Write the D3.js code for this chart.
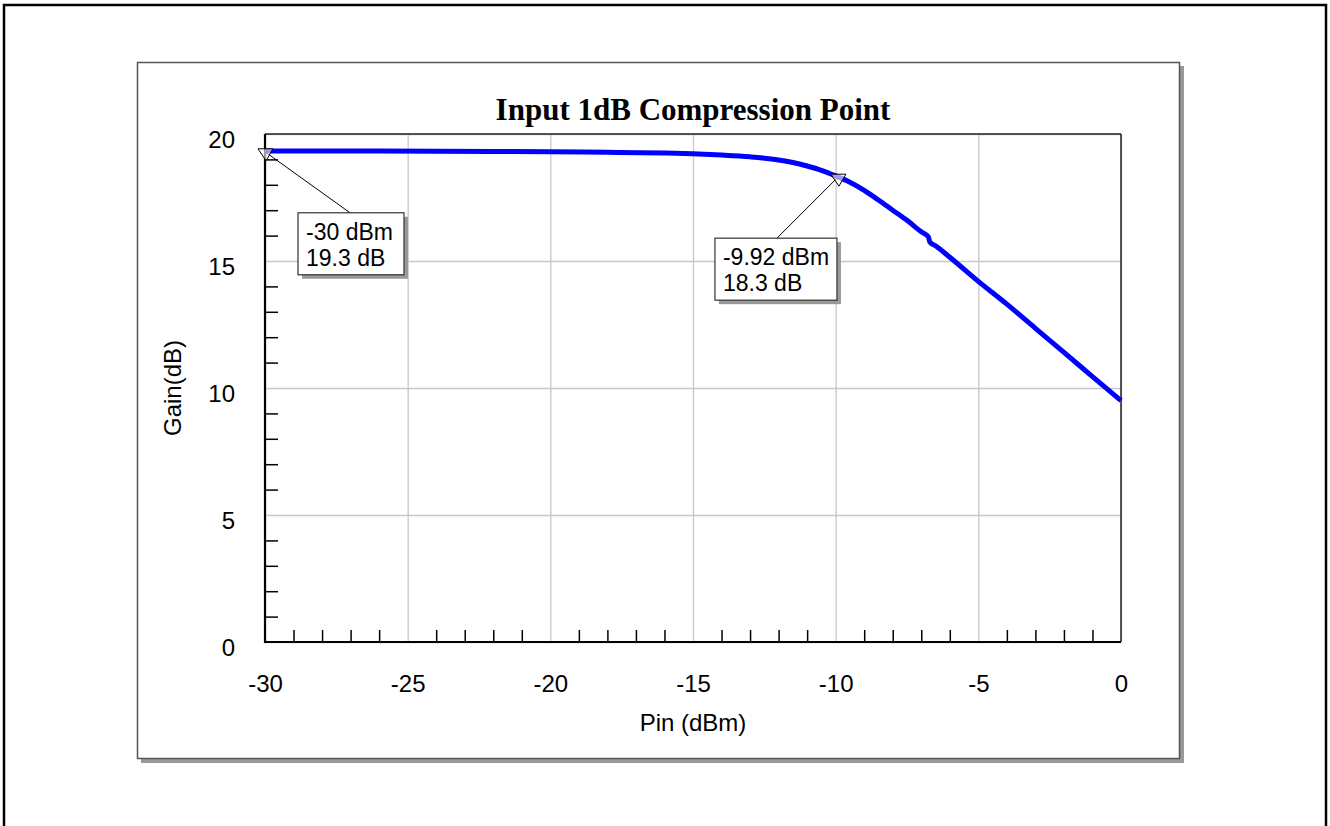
<!DOCTYPE html>
<html>
<head>
<meta charset="utf-8">
<script src="https://cdn.jsdelivr.net/npm/d3@7"></script>
<style>
  body { margin: 0; background: #fff; }
  svg text { font-family: "Liberation Sans", Arial, sans-serif; fill: #000; }
</style>
</head>
<body>
<svg class="chart" width="1330" height="826"></svg>
<script>
// Input 1dB compression point - gain vs input power

// data
var pin  = [-30, -28, -26, -24, -22, -20, -18, -16, -15, -14, -13, -12, -11.5, -11, -10.5, -10, -9.5, -9, -8.5, -8, -7.5, -7, -6.75, -6.7, -6.5, -6, -5, -4, -3, -2, -1, 0];
var gain = [19.33, 19.33, 19.33, 19.32, 19.31, 19.30, 19.28, 19.25, 19.22, 19.17, 19.10, 18.98, 18.88, 18.74, 18.57, 18.35, 18.10, 17.78, 17.40, 17.00, 16.60, 16.15, 15.95, 15.75, 15.60, 15.15, 14.20, 13.30, 12.35, 11.40, 10.45, 9.50];

var markerX = [-30, -9.92];
var markerY = [19.3, 18.3];
var markerText = [["-30 dBm", "19.3 dB"], ["-9.92 dBm", "18.3 dB"]];

var xMajor = [-30, -25, -20, -15, -10, -5, 0];
var yMajor = [0, 5, 10, 15, 20];
var xMinor = d3.range(-29, 0, 1).filter(function (v) { return v % 5 != 0; });
var yMinor = d3.range(1, 20, 1).filter(function (v) { return v % 5 != 0; });

var svg = d3.select(".chart");
var plain = function (d) { return String(d); }; // keep ascii hyphen for minus

// outer frame
svg.append("rect")
   .attr("x", 4).attr("y", 5).attr("width", 1322).attr("height", 840)
   .attr("fill", "none").attr("stroke", "#000").attr("stroke-width", 2.5);

// panel with drop shadow
svg.append("rect")
   .attr("x", 141).attr("y", 66).attr("width", 1043).attr("height", 697)
   .attr("fill", "#999");
svg.append("rect")
   .attr("x", 137.5).attr("y", 62.5).attr("width", 1042).attr("height", 696)
   .attr("fill", "#fff").attr("stroke", "#555").attr("stroke-width", 1.5);

var pLeft = 265, pRight = 1121, pTop = 134, pBottom = 642;

var x = d3.scaleLinear().domain([-30, 0]).range([pLeft, pRight]);
var y = d3.scaleLinear().domain([0, 20]).range([pBottom, pTop]);

// grid
svg.append("g")
   .attr("transform", "translate(0," + pBottom + ")")
   .call(d3.axisBottom(x).tickValues(xMajor).tickSize(-(pBottom - pTop)).tickFormat(""))
   .call(function (g) {
     g.select(".domain").remove();
     g.selectAll("line").attr("stroke", "#c8c8c8").attr("stroke-width", 1.3);
   });
svg.append("g")
   .attr("transform", "translate(" + pLeft + ",0)")
   .call(d3.axisLeft(y).tickValues(yMajor).tickSize(-(pRight - pLeft)).tickFormat(""))
   .call(function (g) {
     g.select(".domain").remove();
     g.selectAll("line").attr("stroke", "#c8c8c8").attr("stroke-width", 1.3);
   });

// minor ticks pointing inward
svg.append("g")
   .attr("transform", "translate(0," + pBottom + ")")
   .call(d3.axisBottom(x).tickValues(xMinor).tickSize(-12).tickFormat(""))
   .call(function (g) {
     g.select(".domain").remove();
     g.selectAll("line").attr("stroke", "#000").attr("stroke-width", 1.5);
   });
svg.append("g")
   .attr("transform", "translate(" + pLeft + ",0)")
   .call(d3.axisLeft(y).tickValues(yMinor).tickSize(-13).tickFormat(""))
   .call(function (g) {
     g.select(".domain").remove();
     g.selectAll("line").attr("stroke", "#000").attr("stroke-width", 1.5);
   });

// plot frame
svg.append("line").attr("x1", pLeft).attr("x2", pRight).attr("y1", pTop).attr("y2", pTop)
   .attr("stroke", "#222").attr("stroke-width", 1.5);
svg.append("line").attr("x1", pRight).attr("x2", pRight).attr("y1", pTop).attr("y2", pBottom)
   .attr("stroke", "#222").attr("stroke-width", 1.5);
svg.append("line").attr("x1", pLeft).attr("x2", pLeft).attr("y1", pTop).attr("y2", pBottom + 1)
   .attr("stroke", "#000").attr("stroke-width", 2.2);
svg.append("line").attr("x1", pLeft - 1).attr("x2", pRight).attr("y1", pBottom).attr("y2", pBottom)
   .attr("stroke", "#000").attr("stroke-width", 2.2);

// tick labels
svg.append("g")
   .attr("transform", "translate(0," + pBottom + ")")
   .call(d3.axisBottom(x).tickValues(xMajor).tickSize(0).tickPadding(33).tickFormat(plain))
   .call(function (g) {
     g.select(".domain").remove();
     g.selectAll("text").attr("font-size", 24).attr("font-family", "Liberation Sans, Arial, sans-serif");
   });
svg.append("g")
   .attr("transform", "translate(" + pLeft + ",0)")
   .call(d3.axisLeft(y).tickValues(yMajor).tickSize(0).tickPadding(30).tickFormat(plain))
   .call(function (g) {
     g.select(".domain").remove();
     g.selectAll("text").attr("font-size", 24).attr("dy", "0.55em").attr("font-family", "Liberation Sans, Arial, sans-serif");
   });

// axis titles
svg.append("text")
   .attr("x", (pLeft + pRight) / 2).attr("y", 731)
   .attr("text-anchor", "middle").attr("font-size", 24)
   .text("Pin (dBm)");
svg.append("text")
   .attr("transform", "translate(181," + ((pTop + pBottom) / 2) + ") rotate(-90)")
   .attr("text-anchor", "middle").attr("font-size", 24)
   .text("Gain(dB)");
svg.append("text")
   .attr("x", (pLeft + pRight) / 2).attr("y", 120)
   .attr("text-anchor", "middle")
   .style("font-family", "'Liberation Serif', 'Times New Roman', serif")
   .attr("font-size", 31).attr("font-weight", "bold")
   .text("Input 1dB Compression Point");

// the curve
var line = d3.line()
   .x(function (d, i) { return x(pin[i]); })
   .y(function (d, i) { return y(gain[i]); })
   .curve(d3.curveMonotoneX);

svg.append("path")
   .datum(pin)
   .attr("d", line)
   .attr("fill", "none")
   .attr("stroke", "#0000ff")
   .attr("stroke-width", 5)
   .attr("stroke-linejoin", "round");

// markers and their labels (box offsets relative to the marker)
var boxOff = [{dx: 33, dy: 61, lx: 85}, {dx: -123, dy: 61, lx: -61}];
var bw = [106, 122], bh = 62;

markerX.forEach(function (mx, i) {
  var px = x(mx), py = y(markerY[i]);
  var b = boxOff[i];
  var bx = px + b.dx, by = py + b.dy;

  svg.append("line")
     .attr("x1", px).attr("y1", py)
     .attr("x2", px + b.lx).attr("y2", by)
     .attr("stroke", "#000").attr("stroke-width", 1);

  svg.append("path")
     .attr("d", "M" + (px - 7) + "," + (py - 3) + "L" + (px + 8) + "," + (py - 3) + "L" + (px + 1) + "," + (py + 9) + "Z")
     .attr("fill", "#fff").attr("fill-opacity", 0.6)
     .attr("stroke", "#000").attr("stroke-width", 1);

  svg.append("rect")
     .attr("x", bx + 4).attr("y", by + 4).attr("width", bw[i]).attr("height", bh)
     .attr("fill", "#999");
  svg.append("rect")
     .attr("x", bx).attr("y", by).attr("width", bw[i]).attr("height", bh)
     .attr("fill", "#fff").attr("stroke", "#333").attr("stroke-width", 1.2);

  markerText[i].forEach(function (t, j) {
    svg.append("text")
       .attr("x", bx + 8).attr("y", by + 27 + j * 26)
       .attr("font-size", 23)
       .text(t);
  });
});
</script>
</body>
</html>
